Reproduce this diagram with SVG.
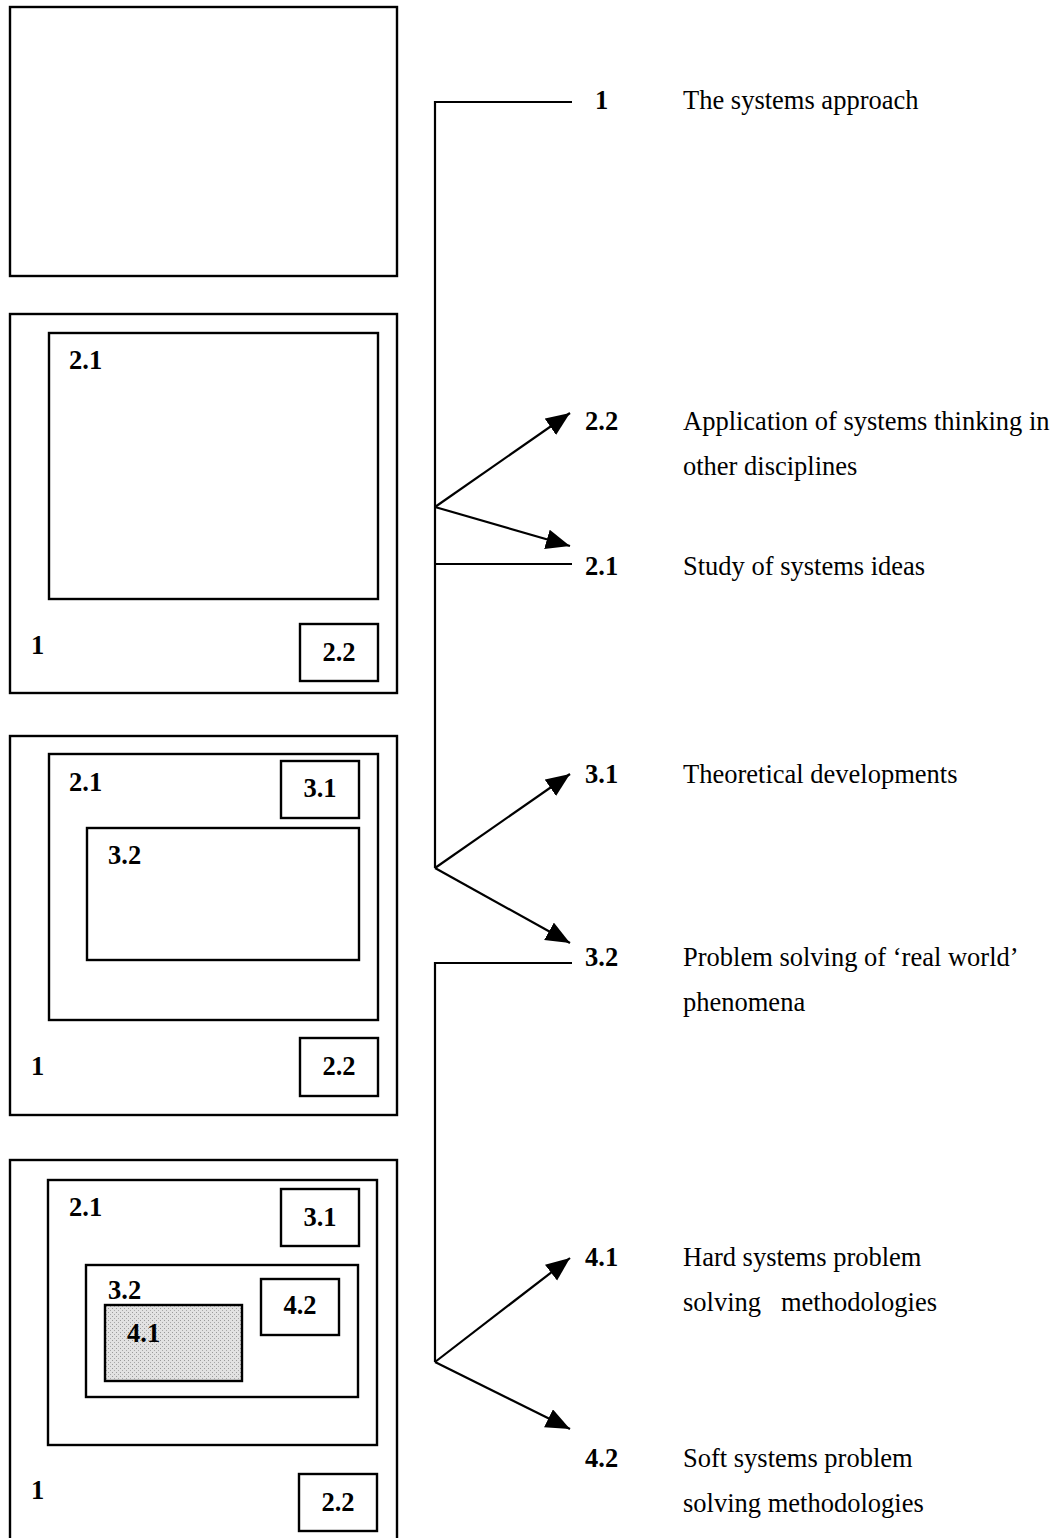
<svg xmlns="http://www.w3.org/2000/svg" width="1061" height="1538" viewBox="0 0 1061 1538">
<style>
.box{fill:none;stroke:#000;stroke-width:2.4}
.shade{fill:url(#stipple);stroke:#000;stroke-width:2.4}
.lbl{font-family:"Liberation Serif","Times New Roman",serif;font-weight:bold;font-size:26.5px;fill:#000}
.desc{font-family:"Liberation Serif","Times New Roman",serif;font-size:26.5px;fill:#000}
.ln{stroke:#000;stroke-width:2.2;fill:none}
</style>
<defs>
<marker id="ah" markerUnits="userSpaceOnUse" markerWidth="28" markerHeight="22" refX="24" refY="10" orient="auto" viewBox="0 0 28 22">
<path d="M0,0 L24,10 L0,20 z" fill="#000"/>
</marker>
<pattern id="stipple" patternUnits="userSpaceOnUse" width="4" height="4">
<rect width="4" height="4" fill="#e2e2e2"/>
<rect x="0" y="0" width="1" height="1" fill="#9a9a9a"/>
<rect x="2" y="2" width="1" height="1" fill="#a8a8a8"/>
</pattern>
</defs>
<rect width="1061" height="1538" fill="#fff"/>

<g id="stage1">
<rect class="box" x="10" y="7" width="387" height="269"/>
</g>

<g id="stage2">
<rect class="box" x="10" y="314" width="387" height="379"/>
<rect class="box" x="49" y="333" width="329" height="266"/>
<rect class="box" x="300" y="624" width="78" height="57"/>
<text class="lbl" x="69" y="369">2.1</text>
<text class="lbl" x="31" y="654">1</text>
<text class="lbl" x="339" y="661" text-anchor="middle">2.2</text>
</g>

<g id="stage3">
<rect class="box" x="10" y="736" width="387" height="379"/>
<rect class="box" x="49" y="754" width="329" height="266"/>
<rect class="box" x="281" y="761" width="78" height="57"/>
<rect class="box" x="87" y="828" width="272" height="132"/>
<rect class="box" x="300" y="1038" width="78" height="58"/>
<text class="lbl" x="69" y="791">2.1</text>
<text class="lbl" x="320" y="797" text-anchor="middle">3.1</text>
<text class="lbl" x="108" y="864">3.2</text>
<text class="lbl" x="31" y="1075">1</text>
<text class="lbl" x="339" y="1075" text-anchor="middle">2.2</text>
</g>

<g id="stage4">
<rect class="box" x="10" y="1160" width="387" height="390"/>
<rect class="box" x="48" y="1180" width="329" height="265"/>
<rect class="box" x="281" y="1189" width="78" height="57"/>
<rect class="box" x="86" y="1265" width="272" height="132"/>
<rect class="shade" x="105" y="1305" width="137" height="76"/>
<rect class="box" x="261" y="1279" width="78" height="56"/>
<rect class="box" x="299" y="1474" width="78" height="57"/>
<text class="lbl" x="69" y="1216">2.1</text>
<text class="lbl" x="320" y="1226" text-anchor="middle">3.1</text>
<text class="lbl" x="108" y="1299">3.2</text>
<text class="lbl" x="127" y="1342">4.1</text>
<text class="lbl" x="300" y="1314" text-anchor="middle">4.2</text>
<text class="lbl" x="31" y="1499">1</text>
<text class="lbl" x="338" y="1511" text-anchor="middle">2.2</text>
</g>

<g id="connectors">
<polyline class="ln" points="572,102 435,102 435,868"/>
<line class="ln" x1="435" y1="564" x2="572" y2="564"/>
<line class="ln" x1="435" y1="507" x2="570" y2="413" marker-end="url(#ah)"/>
<line class="ln" x1="435" y1="507" x2="570" y2="546" marker-end="url(#ah)"/>
<line class="ln" x1="435" y1="868" x2="570" y2="774" marker-end="url(#ah)"/>
<line class="ln" x1="435" y1="868" x2="570" y2="943" marker-end="url(#ah)"/>
<polyline class="ln" points="572,963 435,963 435,1362"/>
<line class="ln" x1="435" y1="1362" x2="570" y2="1258" marker-end="url(#ah)"/>
<line class="ln" x1="435" y1="1362" x2="570" y2="1429" marker-end="url(#ah)"/>
</g>

<g id="label-1">
<text class="lbl" x="595" y="109">1</text>
<text class="desc" x="683" y="109">The systems approach</text>
</g>
<g id="label-2-2">
<text class="lbl" x="585" y="430">2.2</text>
<text class="desc" x="683" y="430">Application of systems thinking in</text>
<text class="desc" x="683" y="475">other disciplines</text>
</g>
<g id="label-2-1">
<text class="lbl" x="585" y="575">2.1</text>
<text class="desc" x="683" y="575">Study of systems ideas</text>
</g>
<g id="label-3-1">
<text class="lbl" x="585" y="783">3.1</text>
<text class="desc" x="683" y="783">Theoretical developments</text>
</g>
<g id="label-3-2">
<text class="lbl" x="585" y="966">3.2</text>
<text class="desc" x="683" y="966">Problem solving of ‘real world’</text>
<text class="desc" x="683" y="1011">phenomena</text>
</g>
<g id="label-4-1">
<text class="lbl" x="585" y="1266">4.1</text>
<text class="desc" x="683" y="1266">Hard systems problem</text>
<text class="desc" x="683" y="1311" xml:space="preserve">solving   methodologies</text>
</g>
<g id="label-4-2">
<text class="lbl" x="585" y="1467">4.2</text>
<text class="desc" x="683" y="1467">Soft systems problem</text>
<text class="desc" x="683" y="1512">solving methodologies</text>
</g>
</svg>
